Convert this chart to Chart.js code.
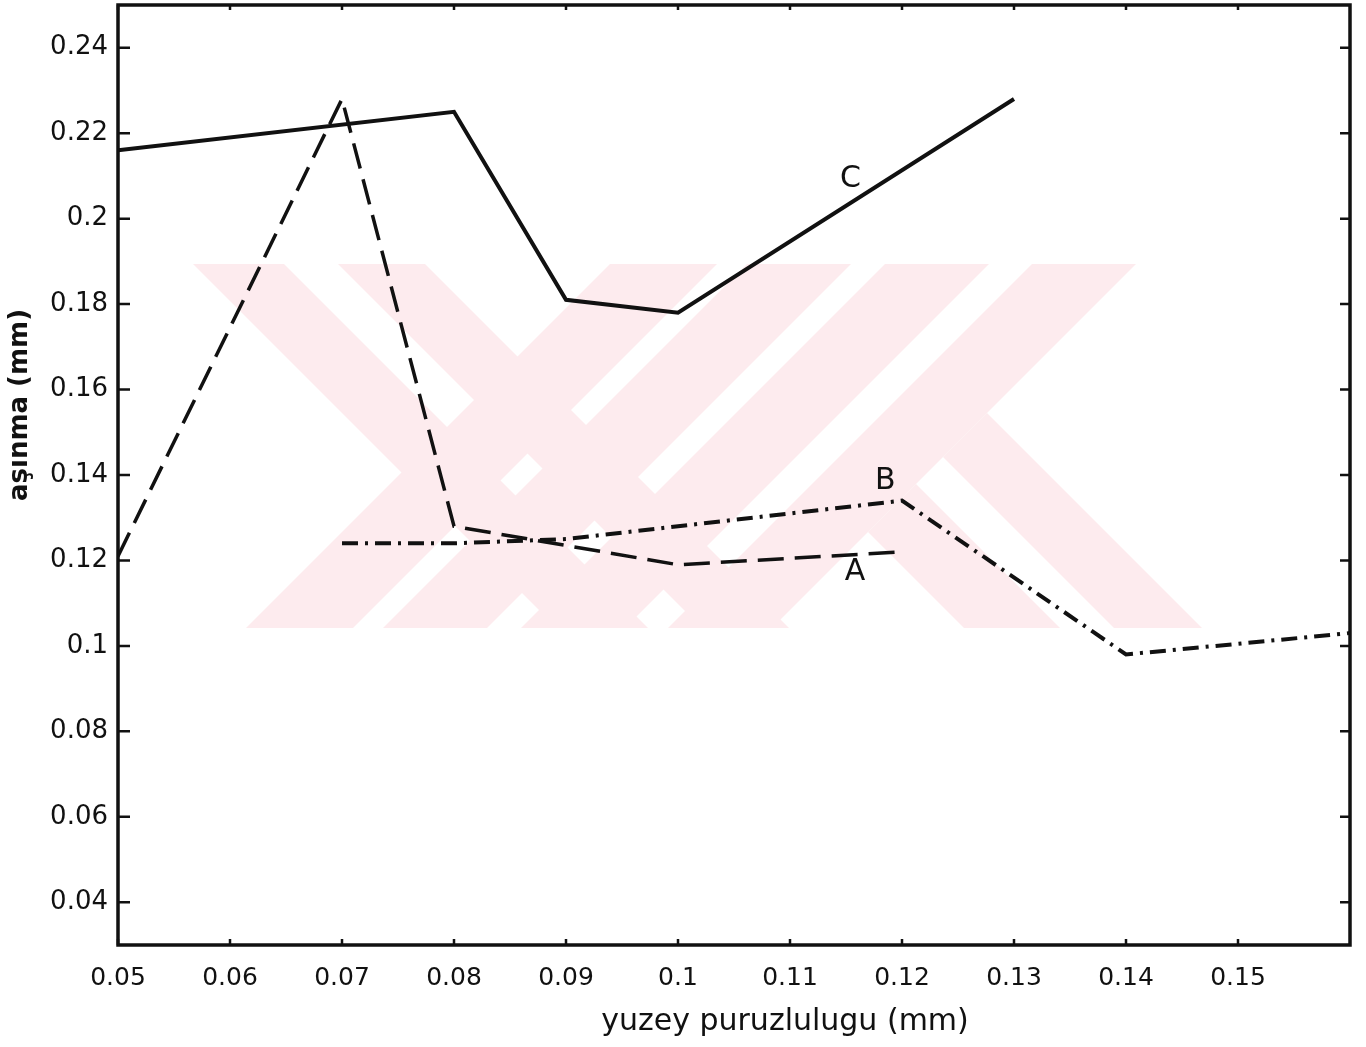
<!DOCTYPE html>
<html>
<head>
<meta charset="utf-8">
<title>aşınma - yuzey puruzlulugu</title>
<script src="https://cdn.jsdelivr.net/npm/chart.js@4/dist/chart.umd.min.js"></script>
<style>
  html, body { margin: 0; padding: 0; background: #fff; }
  #wrap { width: 1366px; height: 1047px; position: relative; }
  canvas { display: block; }
</style>
</head>
<body>
<div id="wrap"><canvas id="chart" width="1366" height="1047"></canvas></div>
<script>
// Axis ticks and their printed labels
const xTicks  = [0.05, 0.06, 0.07, 0.08, 0.09, 0.10, 0.11, 0.12, 0.13, 0.14, 0.15];
const xLabels = ['0.05', '0.06', '0.07', '0.08', '0.09', '0.1', '0.11', '0.12', '0.13', '0.14', '0.15'];
const yTicks  = [0.04, 0.06, 0.08, 0.10, 0.12, 0.14, 0.16, 0.18, 0.20, 0.22, 0.24];
const yLabels = ['0.04', '0.06', '0.08', '0.1', '0.12', '0.14', '0.16', '0.18', '0.2', '0.22', '0.24'];

// Curve A (dashed)
const xA = [0.05, 0.07, 0.08, 0.10, 0.12];
const yA = [0.121, 0.228, 0.128, 0.119, 0.122];

// Curve B (dash-dot)
const xB = [0.07, 0.08, 0.09, 0.10, 0.11, 0.12, 0.14, 0.16];
const yB = [0.124, 0.124, 0.125, 0.128, 0.131, 0.134, 0.098, 0.103];

// Curve C (solid)
const xC = [0.05, 0.08, 0.09, 0.10, 0.13];
const yC = [0.216, 0.225, 0.181, 0.178, 0.228];

// Curve name tags, placed in data coordinates
const tagNames = ['A', 'B', 'C'];
const tagX = [0.1158, 0.1185, 0.1154];
const tagY = [0.1173, 0.1386, 0.2093];

const xTitle = 'yuzey puruzlulugu (mm)';
const yTitle = 'aşınma (mm)';

const toPoints = (xs, ys) => xs.map((v, i) => ({ x: v, y: ys[i] }));

Chart.defaults.font.family = "'DejaVu Sans', sans-serif";
Chart.defaults.color = '#111';

// Faint pink stamp behind the curves
const stamp = {
  id: 'stamp',
  beforeDatasetsDraw(chart) {
    const ctx = chart.ctx;
    const top = 264, bot = 628, h = bot - top;
    const poly = pts => {
      ctx.beginPath();
      ctx.moveTo(pts[0][0], pts[0][1]);
      for (let i = 1; i < pts.length; i++) ctx.lineTo(pts[i][0], pts[i][1]);
      ctx.closePath();
      ctx.fill();
    };
    ctx.save();
    ctx.beginPath();
    ctx.rect(193, top, 1017, h);
    ctx.clip();
    ctx.fillStyle = '#fdebee';
    for (const [a, b] of [[193, 284], [338, 425]]) {
      poly([[a, top], [b, top], [b + h, bot], [a + h, bot]]);
    }
    for (const [a, b] of [[610, 717], [747, 851], [885, 989], [1032, 1136]]) {
      poly([[a, top], [b, top], [b - h, bot], [a - h, bot]]);
    }
    poly([[868, 532], [916, 484], [1060, 628], [964, 628]]);
    poly([[943, 457], [987, 413], [1202, 628], [1114, 628]]);
    ctx.restore();
  }
};

// Box frame with inward tick marks on all four sides
const frame = {
  id: 'frame',
  afterDatasetsDraw(chart) {
    const { ctx, chartArea: { left, right, top, bottom }, scales: { x, y } } = chart;
    ctx.save();
    ctx.strokeStyle = '#111';
    ctx.lineWidth = 3.5;
    ctx.strokeRect(left, top, right - left, bottom - top);
    ctx.lineWidth = 2.5;
    ctx.beginPath();
    for (const v of yTicks) {
      const py = y.getPixelForValue(v);
      ctx.moveTo(left, py); ctx.lineTo(left + 12, py);
      ctx.moveTo(right, py); ctx.lineTo(right - 10, py);
    }
    for (const v of xTicks) {
      const px = x.getPixelForValue(v);
      ctx.moveTo(px, top); ctx.lineTo(px, top + 5);
      ctx.moveTo(px, bottom); ctx.lineTo(px, bottom - 6);
    }
    ctx.stroke();
    ctx.restore();
  }
};

// Curve tags and axis titles
const texts = {
  id: 'texts',
  afterDraw(chart) {
    const { ctx, scales: { x, y } } = chart;
    ctx.save();
    ctx.fillStyle = '#111';
    ctx.textAlign = 'center';
    ctx.textBaseline = 'middle';
    ctx.font = "30px 'DejaVu Sans'";
    tagNames.forEach((t, i) => {
      ctx.fillText(t, x.getPixelForValue(tagX[i]), y.getPixelForValue(tagY[i]));
    });
    ctx.font = "30px 'DejaVu Sans'";
    ctx.fillText(xTitle, 785, 1022);
    ctx.translate(20, 405);
    ctx.rotate(-Math.PI / 2);
    ctx.font = "bold 26px 'DejaVu Sans'";
    ctx.fillText(yTitle, 0, 0);
    ctx.restore();
  }
};

new Chart(document.getElementById('chart'), {
  type: 'line',
  data: {
    datasets: [
      {
        label: 'A',
        data: toPoints(xA, yA),
        borderColor: '#111',
        borderWidth: 3.5,
        borderDash: [26, 11],
        pointRadius: 0,
        tension: 0,
        fill: false
      },
      {
        label: 'B',
        data: toPoints(xB, yB),
        borderColor: '#111',
        borderWidth: 4,
        borderDash: [16, 7, 3, 7],
        pointRadius: 0,
        tension: 0,
        fill: false
      },
      {
        label: 'C',
        data: toPoints(xC, yC),
        borderColor: '#111',
        borderWidth: 4,
        pointRadius: 0,
        tension: 0,
        fill: false
      }
    ]
  },
  options: {
    responsive: false,
    animation: false,
    devicePixelRatio: 1,
    layout: { padding: { top: 5, right: 16, left: 0, bottom: 0 } },
    plugins: {
      legend: { display: false },
      tooltip: { enabled: false }
    },
    scales: {
      x: {
        type: 'linear',
        min: 0.05,
        max: 0.16,
        afterBuildTicks: s => { s.ticks = xTicks.map(v => ({ value: v })); },
        afterFit: s => { s.height = 102; s.paddingLeft = 0; s.paddingRight = 0; },
        grid: { display: false, drawTicks: false },
        border: { display: false },
        ticks: {
          padding: 18,
          color: '#111',
          font: { size: 25 },
          maxRotation: 0,
          autoSkip: false,
          callback: (v, i) => xLabels[i]
        }
      },
      y: {
        type: 'linear',
        min: 0.03,
        max: 0.25,
        afterBuildTicks: s => { s.ticks = yTicks.map(v => ({ value: v })); },
        afterFit: s => { s.width = 118; s.paddingTop = 0; s.paddingBottom = 0; },
        grid: { display: false, drawTicks: false },
        border: { display: false },
        ticks: {
          padding: 10,
          color: '#111',
          font: { size: 26 },
          autoSkip: false,
          callback: (v, i) => yLabels[i]
        }
      }
    }
  },
  plugins: [stamp, frame, texts]
});
</script>
</body>
</html>
